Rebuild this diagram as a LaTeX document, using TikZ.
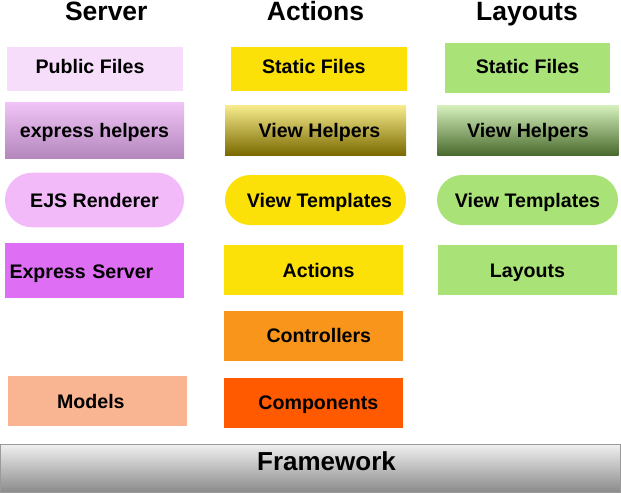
\documentclass[tikz,border=0pt]{standalone}
\usepackage{fontspec}
\setmainfont{Liberation Sans}
\definecolor{pubc}{HTML}{F6DDF9}
\definecolor{exhtop}{HTML}{F0C4F6}
\definecolor{exhbot}{HTML}{B487BD}
\definecolor{ejsc}{HTML}{F2BAF9}
\definecolor{exsc}{HTML}{DE6FF5}
\definecolor{modc}{HTML}{F9B591}
\definecolor{yelc}{HTML}{FBE108}
\definecolor{avhtop}{HTML}{F8EC8E}
\definecolor{avhbot}{HTML}{7A6A00}
\definecolor{ctlc}{HTML}{F8951A}
\definecolor{cmpc}{HTML}{FF5A00}
\definecolor{grnc}{HTML}{A9E276}
\definecolor{lvhtop}{HTML}{D6F1BD}
\definecolor{lvhbot}{HTML}{4A6B2E}
\definecolor{fwtop}{HTML}{F0F0F0}
\definecolor{fwbot}{HTML}{8A8A8A}
\definecolor{fwline}{HTML}{9A9A9A}
\tikzset{
  box/.style={rectangle, inner sep=0pt, outer sep=0pt, draw=none,
    text height=14.2pt, text depth=0pt,
    font=\fontsize{19.6}{22}\selectfont\bfseries},
  pill/.style={box, rounded corners=#1},
  head/.style={anchor=base, inner sep=0pt, font=\fontsize{26.5}{30}\selectfont\bfseries},
}
\begin{document}
\begin{tikzpicture}[x=1pt,y=-1pt]
\useasboundingbox (0,0) rectangle (621,493);
% headers
\node[head] (hs) at (106.3,20.5) {Server};
\node[head] (ha) at (315.5,20.5) {Actions};
\node[head] (hl) at (527,20.5) {Layouts};
% Server column
\node[box, fill=pubc, minimum width=176pt, minimum height=44pt, text depth=4pt] (pub) at (95,68.7) {Public Files\hspace*{10pt}};
\node[box, top color=exhtop, bottom color=exhbot, minimum width=179pt, minimum height=55.3pt] (exh) at (94.5,130.35) {express helpers};
\node[pill=27pt, fill=ejsc, minimum width=179pt, minimum height=54.6pt] (ejs) at (94.5,200) {EJS Renderer};
\node[box, fill=exsc, minimum width=179pt, minimum height=55.3pt, text width=170pt, align=left, text height=16.2pt] (exs) at (94.5,270.35) {Express Server};
\node[box, fill=modc, minimum width=178.7pt, minimum height=49.7pt, text height=16.2pt] (mod) at (97.35,400.85) {Models\hspace*{13pt}};
% Actions column
\node[box, fill=yelc, minimum width=175.7pt, minimum height=44pt, text depth=4pt] (asf) at (318.85,68.7) {Static Files\hspace*{10pt}};
\node[box, top color=avhtop, bottom color=avhbot, minimum width=181pt, minimum height=50pt] (avh) at (315.5,130) {\hspace*{8pt}View Helpers};
\node[pill=25pt, fill=yelc, minimum width=181pt, minimum height=50pt] (avt) at (315.5,200) {\hspace*{8pt}View Templates};
\node[box, fill=yelc, minimum width=179.3pt, minimum height=50pt] (act) at (313.65,270) {\hspace*{10pt}Actions};
\node[box, fill=ctlc, minimum width=178.7pt, minimum height=49.7pt] (ctl) at (313.35,335.85) {\hspace*{11pt}Controllers};
\node[box, fill=cmpc, minimum width=178.7pt, minimum height=49.7pt] (cmp) at (313.35,402.85) {\hspace*{10pt}Components};
% Layouts column
\node[box, fill=grnc, minimum width=165pt, minimum height=50pt, text depth=2pt] (lsf) at (527.5,67.7) {Static Files};
\node[box, top color=lvhtop, bottom color=lvhbot, minimum width=181.2pt, minimum height=50pt] (lvh) at (527.9,130) {View Helpers};
\node[pill=25pt, fill=grnc, minimum width=181pt, minimum height=50pt] (lvt) at (527.5,200) {View Templates};
\node[box, fill=grnc, minimum width=179.6pt, minimum height=50pt] (lay) at (527.5,270) {Layouts};
% Framework
\node[rectangle, inner sep=0pt, outer sep=0pt, draw=fwline, line width=1pt,
  top color=fwtop, bottom color=fwbot,
  minimum width=620pt, minimum height=48.5pt,
  text height=18.6pt, text depth=15.1pt,
  font=\fontsize{26}{30}\selectfont\bfseries] (fw) at (310.5,468.25) {\hspace*{32pt}Framework};
\end{tikzpicture}
\end{document}
